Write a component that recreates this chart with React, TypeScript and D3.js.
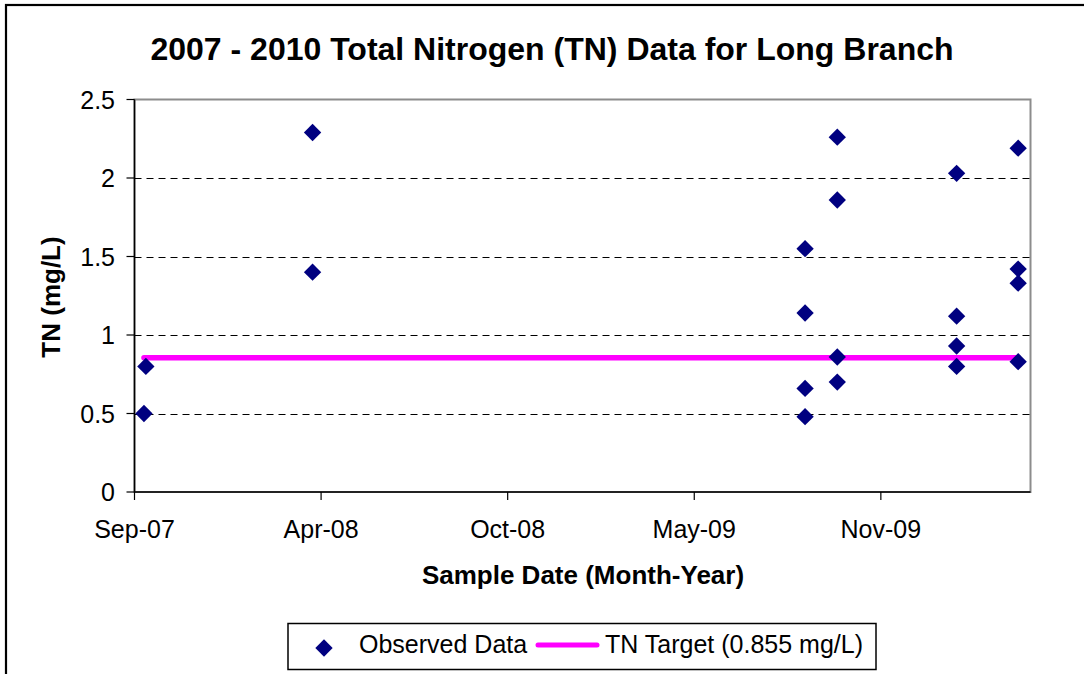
import React from 'react'
import * as d3 from 'd3'

// sample dates and TN values (mg/L)
const sampleDates = [
  '2007-09-30', '2007-10-02',
  '2008-03-26', '2008-03-26',
  '2009-08-28', '2009-08-28', '2009-08-28', '2009-08-28',
  '2009-10-01', '2009-10-01', '2009-10-01', '2009-10-01',
  '2010-02-04', '2010-02-04', '2010-02-04', '2010-02-04',
  '2010-04-10', '2010-04-10', '2010-04-10', '2010-04-10',
]
const tnValues = [
  0.5, 0.8,
  2.29, 1.4,
  1.55, 1.14, 0.66, 0.48,
  2.26, 1.86, 0.86, 0.7,
  2.03, 1.12, 0.93, 0.8,
  2.19, 1.42, 1.33, 0.83,
]
const targetDates = ['2007-09-30', '2010-04-10']
const targetValue = 0.855

const xDomain = ['2007-09-20', '2010-04-23']
const xTicks = ['2007-09-20', '2008-04-04', '2008-10-18', '2009-05-03', '2009-11-16']
const yTicks = [0, 0.5, 1, 1.5, 2, 2.5]

const font = "Arial, 'Liberation Sans', sans-serif"

const App = () => {
  const parse = d3.timeParse('%Y-%m-%d')
  const fmt = d3.timeFormat('%b-%y')

  const left = 134.5, right = 1030.5, top = 99.5, bottom = 492

  const x = d3.scaleTime()
    .domain(xDomain.map(d => parse(d) as Date))
    .range([left, right])
  const y = d3.scaleLinear().domain([0, 2.5]).range([bottom, top])

  const points = sampleDates.map((d, i) => ({ date: parse(d) as Date, value: tnValues[i] }))
  const target = targetDates.map(d => ({ date: parse(d) as Date, value: targetValue }))

  const line = d3.line<{ date: Date, value: number }>()
    .x(d => x(d.date))
    .y(d => y(d.value))

  // rotated square gives the Excel diamond marker
  const diamond = d3.symbol().type(d3.symbolSquare).size(150)()

  // snap hairlines to the pixel grid
  const crisp = (v: number) => Math.round(v) + 0.5

  return (
    <svg width={1084} height={674} style={{ position: 'absolute', left: 0, top: 0, background: '#fff' }}
      fontFamily={font}>
      <rect x={0} y={0} width={1084} height={674} fill="#fff" />
      {/* outer chart border */}
      <rect x={6} y={5} width={1200} height={800} fill="none" stroke="#000" strokeWidth={2.2} />

      <text x={552} y={60} textAnchor="middle" fontSize={32} fontWeight="bold">
        2007 - 2010 Total Nitrogen (TN) Data for Long Branch
      </text>

      {/* plot frame */}
      <rect x={left} y={top} width={right - left} height={bottom - top} fill="#fff" stroke="#8c8c8c" strokeWidth={2} />

      {/* grid */}
      {yTicks.filter(t => t > 0 && t < 2.5).map(t => (
        <line key={'g' + t} x1={left} x2={right} y1={crisp(y(t))} y2={crisp(y(t))}
          stroke="#000" strokeWidth={1} strokeDasharray="7,5" />
      ))}

      {/* y axis */}
      <line x1={left} x2={left} y1={top} y2={bottom} stroke="#000" strokeWidth={1.5} />
      {yTicks.map(t => (
        <g key={'y' + t}>
          <line x1={left - 8} x2={left} y1={y(t)} y2={y(t)} stroke="#000" strokeWidth={1.2} />
          <text x={115} y={y(t)} dy="0.36em" textAnchor="end" fontSize={25}>{t}</text>
        </g>
      ))}

      {/* x axis */}
      <line x1={left} x2={right} y1={bottom} y2={bottom} stroke="#000" strokeWidth={1.5} />
      {xTicks.map(t => {
        const d = parse(t) as Date
        return (
          <g key={t}>
            <line x1={x(d)} x2={x(d)} y1={bottom} y2={bottom + 8} stroke="#000" strokeWidth={1.2} />
            <text x={x(d)} y={538} textAnchor="middle" fontSize={25}>{fmt(d)}</text>
          </g>
        )
      })}

      <text x={583} y={584} textAnchor="middle" fontSize={26} fontWeight="bold">Sample Date (Month-Year)</text>
      <text transform="translate(60,297) rotate(-90)" textAnchor="middle" fontSize={26} fontWeight="bold">TN (mg/L)</text>

      {/* target line */}
      <path d={line(target) || ''} fill="none" stroke="#ff00ff" strokeWidth={5.5} strokeLinecap="round" />

      {/* observed points */}
      {points.map((p, i) => (
        <path key={i} d={diamond || ''} fill="#000080"
          transform={`translate(${x(p.date)},${y(p.value)}) rotate(45)`} />
      ))}

      {/* legend */}
      <rect x={288} y={623.5} width={588} height={46} fill="#fff" stroke="#000" strokeWidth={1.5} />
      <path d={diamond || ''} fill="#000080" transform="translate(324,648) rotate(45)" />
      <text x={359} y={653} fontSize={25}>Observed Data</text>
      <line x1={538} x2={597} y1={645} y2={645} stroke="#ff00ff" strokeWidth={5} strokeLinecap="round" />
      <text x={605} y={653} fontSize={25}>TN Target (0.855 mg/L)</text>
    </svg>
  )
}

export default App
